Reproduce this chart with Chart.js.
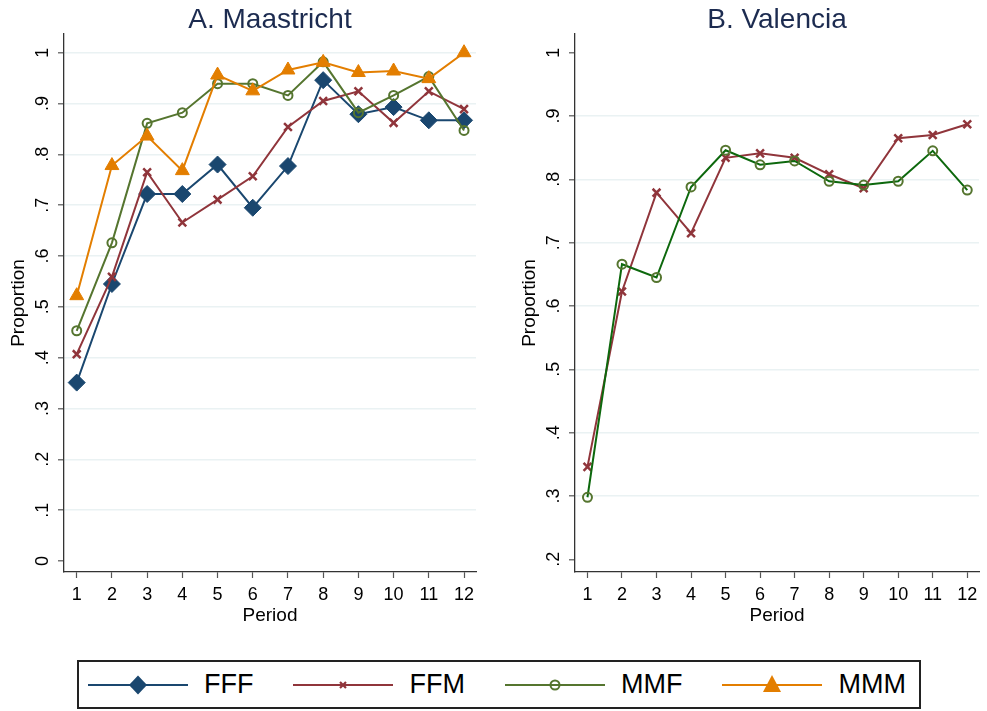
<!DOCTYPE html>
<html>
<head>
<meta charset="utf-8">
<script src="https://cdn.jsdelivr.net/npm/chart.js@4"></script>
<style>
  body { margin: 0; background: #fff; width: 987px; height: 711px; position: relative; overflow: hidden;
         font-family: "Liberation Sans", Arial, sans-serif; }
  #wrapA { position: absolute; left: 0; top: 0; width: 490px; height: 629px; }
  #wrapB { position: absolute; left: 511px; top: 0; width: 476px; height: 629px; }
  #legend { position: absolute; left: 77px; top: 660px; width: 844px; height: 49px; box-sizing: border-box;
            border: 2px solid #222; display: flex; align-items: center; padding-left: 9px; }
  .item { display: flex; align-items: center; margin-right: 40px; font-size: 27px; color: #000; }
  .item svg { margin-right: 16px; }
</style>
</head>
<body>
<div id="wrapA"><canvas id="chartA"></canvas></div>
<div id="wrapB"><canvas id="chartB"></canvas></div>
<div id="legend">
  <div class="item"><svg width="100" height="24"><line x1="0" y1="12" x2="100" y2="12" stroke="#1a476f" stroke-width="2"/><polygon points="50,2.5 59,12 50,21.5 41,12" fill="#1a476f"/></svg>FFF</div>
  <div class="item"><svg width="100" height="24"><line x1="0" y1="12" x2="100" y2="12" stroke="#90353b" stroke-width="2"/><path d="M47,9 L53,15 M53,9 L47,15" stroke="#90353b" stroke-width="2.2"/></svg>FFM</div>
  <div class="item"><svg width="100" height="24"><line x1="0" y1="12" x2="100" y2="12" stroke="#55752f" stroke-width="2"/><circle cx="50" cy="12" r="4.5" fill="none" stroke="#55752f" stroke-width="2"/></svg>MMF</div>
  <div class="item"><svg width="100" height="24"><line x1="0" y1="12" x2="100" y2="12" stroke="#e37e00" stroke-width="2"/><polygon points="50,2 59,19 41,19" fill="#e37e00"/></svg>MMM</div>
</div>
<script>
// Periods and tick labels
const periods = [1, 2, 3, 4, 5, 6, 7, 8, 9, 10, 11, 12];
const yTicksA = [0, 0.1, 0.2, 0.3, 0.4, 0.5, 0.6, 0.7, 0.8, 0.9, 1];
const yTicksB = [0.2, 0.3, 0.4, 0.5, 0.6, 0.7, 0.8, 0.9, 1];

// A. Maastricht
const maasFFF = [0.351, 0.545, 0.722, 0.722, 0.780, 0.695, 0.777, 0.946, 0.879, 0.893, 0.867, 0.867];
const maasFFM = [0.407, 0.559, 0.765, 0.666, 0.711, 0.757, 0.854, 0.905, 0.924, 0.862, 0.924, 0.889];
const maasMMF = [0.453, 0.626, 0.861, 0.882, 0.939, 0.939, 0.916, 0.982, 0.882, 0.916, 0.953, 0.847];
const maasMMM = [0.522, 0.778, 0.836, 0.768, 0.956, 0.925, 0.966, 0.981, 0.961, 0.964, 0.949, 1.0];

// B. Valencia
const valFFM = [0.346, 0.623, 0.779, 0.715, 0.834, 0.841, 0.834, 0.808, 0.786, 0.865, 0.870, 0.887];
const valMMF = [0.298, 0.666, 0.645, 0.788, 0.846, 0.823, 0.829, 0.797, 0.791, 0.797, 0.845, 0.783];

const FONT = 'Liberation Sans';
const toPoints = vals => periods.map((p, i) => ({ x: p, y: vals[i] }));

function series(vals, color, style, radius, extra) {
  return Object.assign({
    data: toPoints(vals),
    borderColor: color,
    borderWidth: 2,
    pointStyle: style,
    pointRadius: radius,
    pointBackgroundColor: color,
    pointBorderColor: color,
    pointBorderWidth: 1,
    tension: 0
  }, extra || {});
}

function fmtTick(v) {
  if (Math.abs(v) < 1e-9) return '0';
  if (Math.abs(v - 1) < 1e-9) return '1';
  return '.' + Math.round(v * 10);
}

function makeChart(id, title, datasets, yMin, yMax, yTicks, hideGrid, padRight) {
  return new Chart(document.getElementById(id), {
    type: 'line',
    data: { datasets },
    options: {
      responsive: true,
      maintainAspectRatio: false,
      animation: false,
      layout: { padding: { left: 0, right: padRight, top: 0, bottom: 0 } },
      plugins: {
        legend: { display: false },
        tooltip: { enabled: false },
        title: {
          display: true, text: title, color: '#1c2b50', fullSize: false,
          font: { family: FONT, size: 28, weight: 'normal', lineHeight: 0.95 },
          padding: { top: 7.4, bottom: 0 }
        }
      },
      scales: {
        x: {
          type: 'linear', min: 0.639, max: 12.34,
          afterBuildTicks: s => { s.ticks = periods.map(v => ({ value: v })); },
          afterFit: s => { s.height = 57; },
          grid: { drawOnChartArea: false, tickLength: 6, tickColor: '#555', tickWidth: 1.2 },
          border: { color: '#333', width: 1.3 },
          ticks: { color: '#000', font: { family: FONT, size: 18 }, padding: 6, maxRotation: 0 },
          title: { display: true, text: 'Period', color: '#000', font: { family: FONT, size: 19 }, padding: { top: 0, bottom: 2 } }
        },
        y: {
          type: 'linear', min: yMin, max: yMax,
          afterBuildTicks: s => { s.ticks = yTicks.map(v => ({ value: v })); },
          afterFit: s => { s.width = 64; },
          grid: {
            color: c => (c.tick && hideGrid.some(h => Math.abs(h - c.tick.value) < 1e-6)) ? 'rgba(0,0,0,0)' : '#eaf2f3',
            lineWidth: 1.6, tickLength: 6, tickColor: '#555', tickWidth: 1.2
          },
          border: { color: '#333', width: 1.3 },
          ticks: {
            color: '#000', font: { family: FONT, size: 18 }, padding: 7,
            minRotation: 90, maxRotation: 90, crossAlign: 'center',
            callback: v => fmtTick(v)
          },
          title: { display: true, text: 'Proportion', color: '#000', font: { family: FONT, size: 19 }, padding: { top: 7, bottom: 0 } }
        }
      }
    }
  });
}

makeChart('chartA', 'A. Maastricht', [
  series(maasFFF, '#1a476f', 'rectRot', 8.5, { order: 4 }),
  series(maasFFM, '#90353b', 'crossRot', 5.5, { order: 3, pointBorderWidth: 2.5 }),
  series(maasMMF, '#55752f', 'circle', 4.5, { order: 2, pointBackgroundColor: 'rgba(0,0,0,0)', pointBorderWidth: 2 }),
  series(maasMMM, '#e37e00', 'triangle', 8, { order: 1 })
], -0.0216, 1.0368, yTicksA, [0], 14);

makeChart('chartB', 'B. Valencia', [
  series(valFFM, '#90353b', 'crossRot', 5.5, { order: 2, pointBorderWidth: 2.5 }),
  series(valMMF, '#0d680d', 'circle', 4.5, { order: 1, pointBackgroundColor: 'rgba(0,0,0,0)', pointBorderColor: '#55752f', pointBorderWidth: 2 })
], 0.18, 1.0295, yTicksB, [0.2, 1], 0);
</script>
</body>
</html>
